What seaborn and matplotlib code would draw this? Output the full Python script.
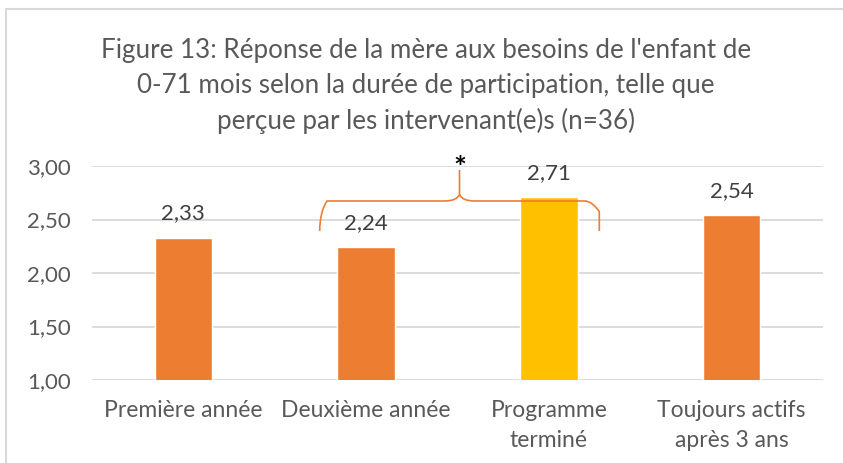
import matplotlib
matplotlib.use("Agg")
import matplotlib.pyplot as plt
import seaborn as sns
import pandas as pd
from matplotlib.patches import Rectangle
from matplotlib.path import Path
from matplotlib.patches import PathPatch

categories = ["Première année", "Deuxième année", "Programme\nterminé", "Toujours actifs\naprès 3 ans"]
values = [2.33, 2.24, 2.71, 2.54]
value_labels = ["2,33", "2,24", "2,71", "2,54"]
bar_colors = ["#ED7D31", "#ED7D31", "#FFC000", "#ED7D31"]
y_ticks = [1.0, 1.5, 2.0, 2.5, 3.0]
y_tick_labels = ["1,00", "1,50", "2,00", "2,50", "3,00"]
title = "Figure 13: Réponse de la mère aux besoins de l'enfant de\n0-71 mois selon la durée de participation, telle que\nperçue par les intervenant(e)s (n=36)"

sns.set_theme(style="white")
plt.rcParams["font.family"] = ["Lato", "DejaVu Sans"]

W, H = 843, 463
fig = plt.figure(figsize=(W / 100, H / 100), dpi=100)
ax = fig.add_axes([92 / W, 1 - 380 / H, (823 - 92) / W, (380 - 166) / H])

df = pd.DataFrame({"cat": categories, "val": values})
sns.barplot(data=df, x="cat", y="val", hue="cat", palette=bar_colors,
            legend=False, width=0.315, saturation=1, ax=ax, zorder=3)

ax.set_ylim(1, 3)
ax.set_xlim(-0.5, 3.5)
ax.set_yticks(y_ticks)
ax.set_yticklabels(y_tick_labels)
ax.set_xlabel("")
ax.set_ylabel("")
for s in ax.spines.values():
    s.set_visible(False)
ax.yaxis.grid(True, color="#D9D9D9", linewidth=1.3, zorder=0)
ax.set_axisbelow(True)
ax.tick_params(axis="y", length=0, pad=15, labelsize=16, labelcolor="#595959")
ax.tick_params(axis="x", length=0, pad=14.5, labelsize=16.5, labelcolor="#595959")
for lbl in ax.get_xticklabels():
    lbl.set_linespacing(1.5)

for i, (v, t) in enumerate(zip(values, value_labels)):
    ax.annotate(t, (i, v), xytext=(0, 17.5), textcoords="offset points",
                ha="center", va="center", fontsize=16, color="#404040")

# significance brace
xl, xm, xr = 0.746, 1.511, 2.276
yb, yh, yp = 2.393, 2.673, 2.963
r = 0.04
verts = [(xl, yb), (xl, yh - 0.1), (xl + r, yh), (xl + 2 * r, yh),
         (xm - 2 * r, yh), (xm - r * 0.4, yh), (xm, yh + 0.06),
         (xm, yp),
         (xm, yh + 0.06), (xm + r * 0.4, yh), (xm + 2 * r, yh),
         (xr - 2 * r, yh), (xr - r, yh), (xr, yh - 0.1), (xr, yb)]
codes = [Path.MOVETO, Path.CURVE3, Path.CURVE3, Path.LINETO,
         Path.LINETO, Path.CURVE3, Path.CURVE3, Path.LINETO,
         Path.MOVETO, Path.CURVE3, Path.CURVE3, Path.LINETO,
         Path.CURVE3, Path.CURVE3, Path.LINETO]
brace = PathPatch(Path(verts, codes), facecolor="none", edgecolor="#ED7D31",
                  linewidth=1.2, zorder=5, clip_on=False)
ax.add_patch(brace)
ax.text(xm, 2.97, "*", ha="center", va="center", fontsize=22, color="black",
        fontweight="bold", clip_on=False)

fig.text(426 / W, 1 - 86 / H, title, ha="center", va="center", fontsize=18.7,
         color="#595959", linespacing=1.47)

fig.patches.append(Rectangle((6 / W, -0.1), 1.2, (1 - 9 / H) + 0.1,
                             transform=fig.transFigure, fill=False,
                             edgecolor="#D9D9D9", linewidth=1.5))

fig.savefig("out.png", dpi=100)
